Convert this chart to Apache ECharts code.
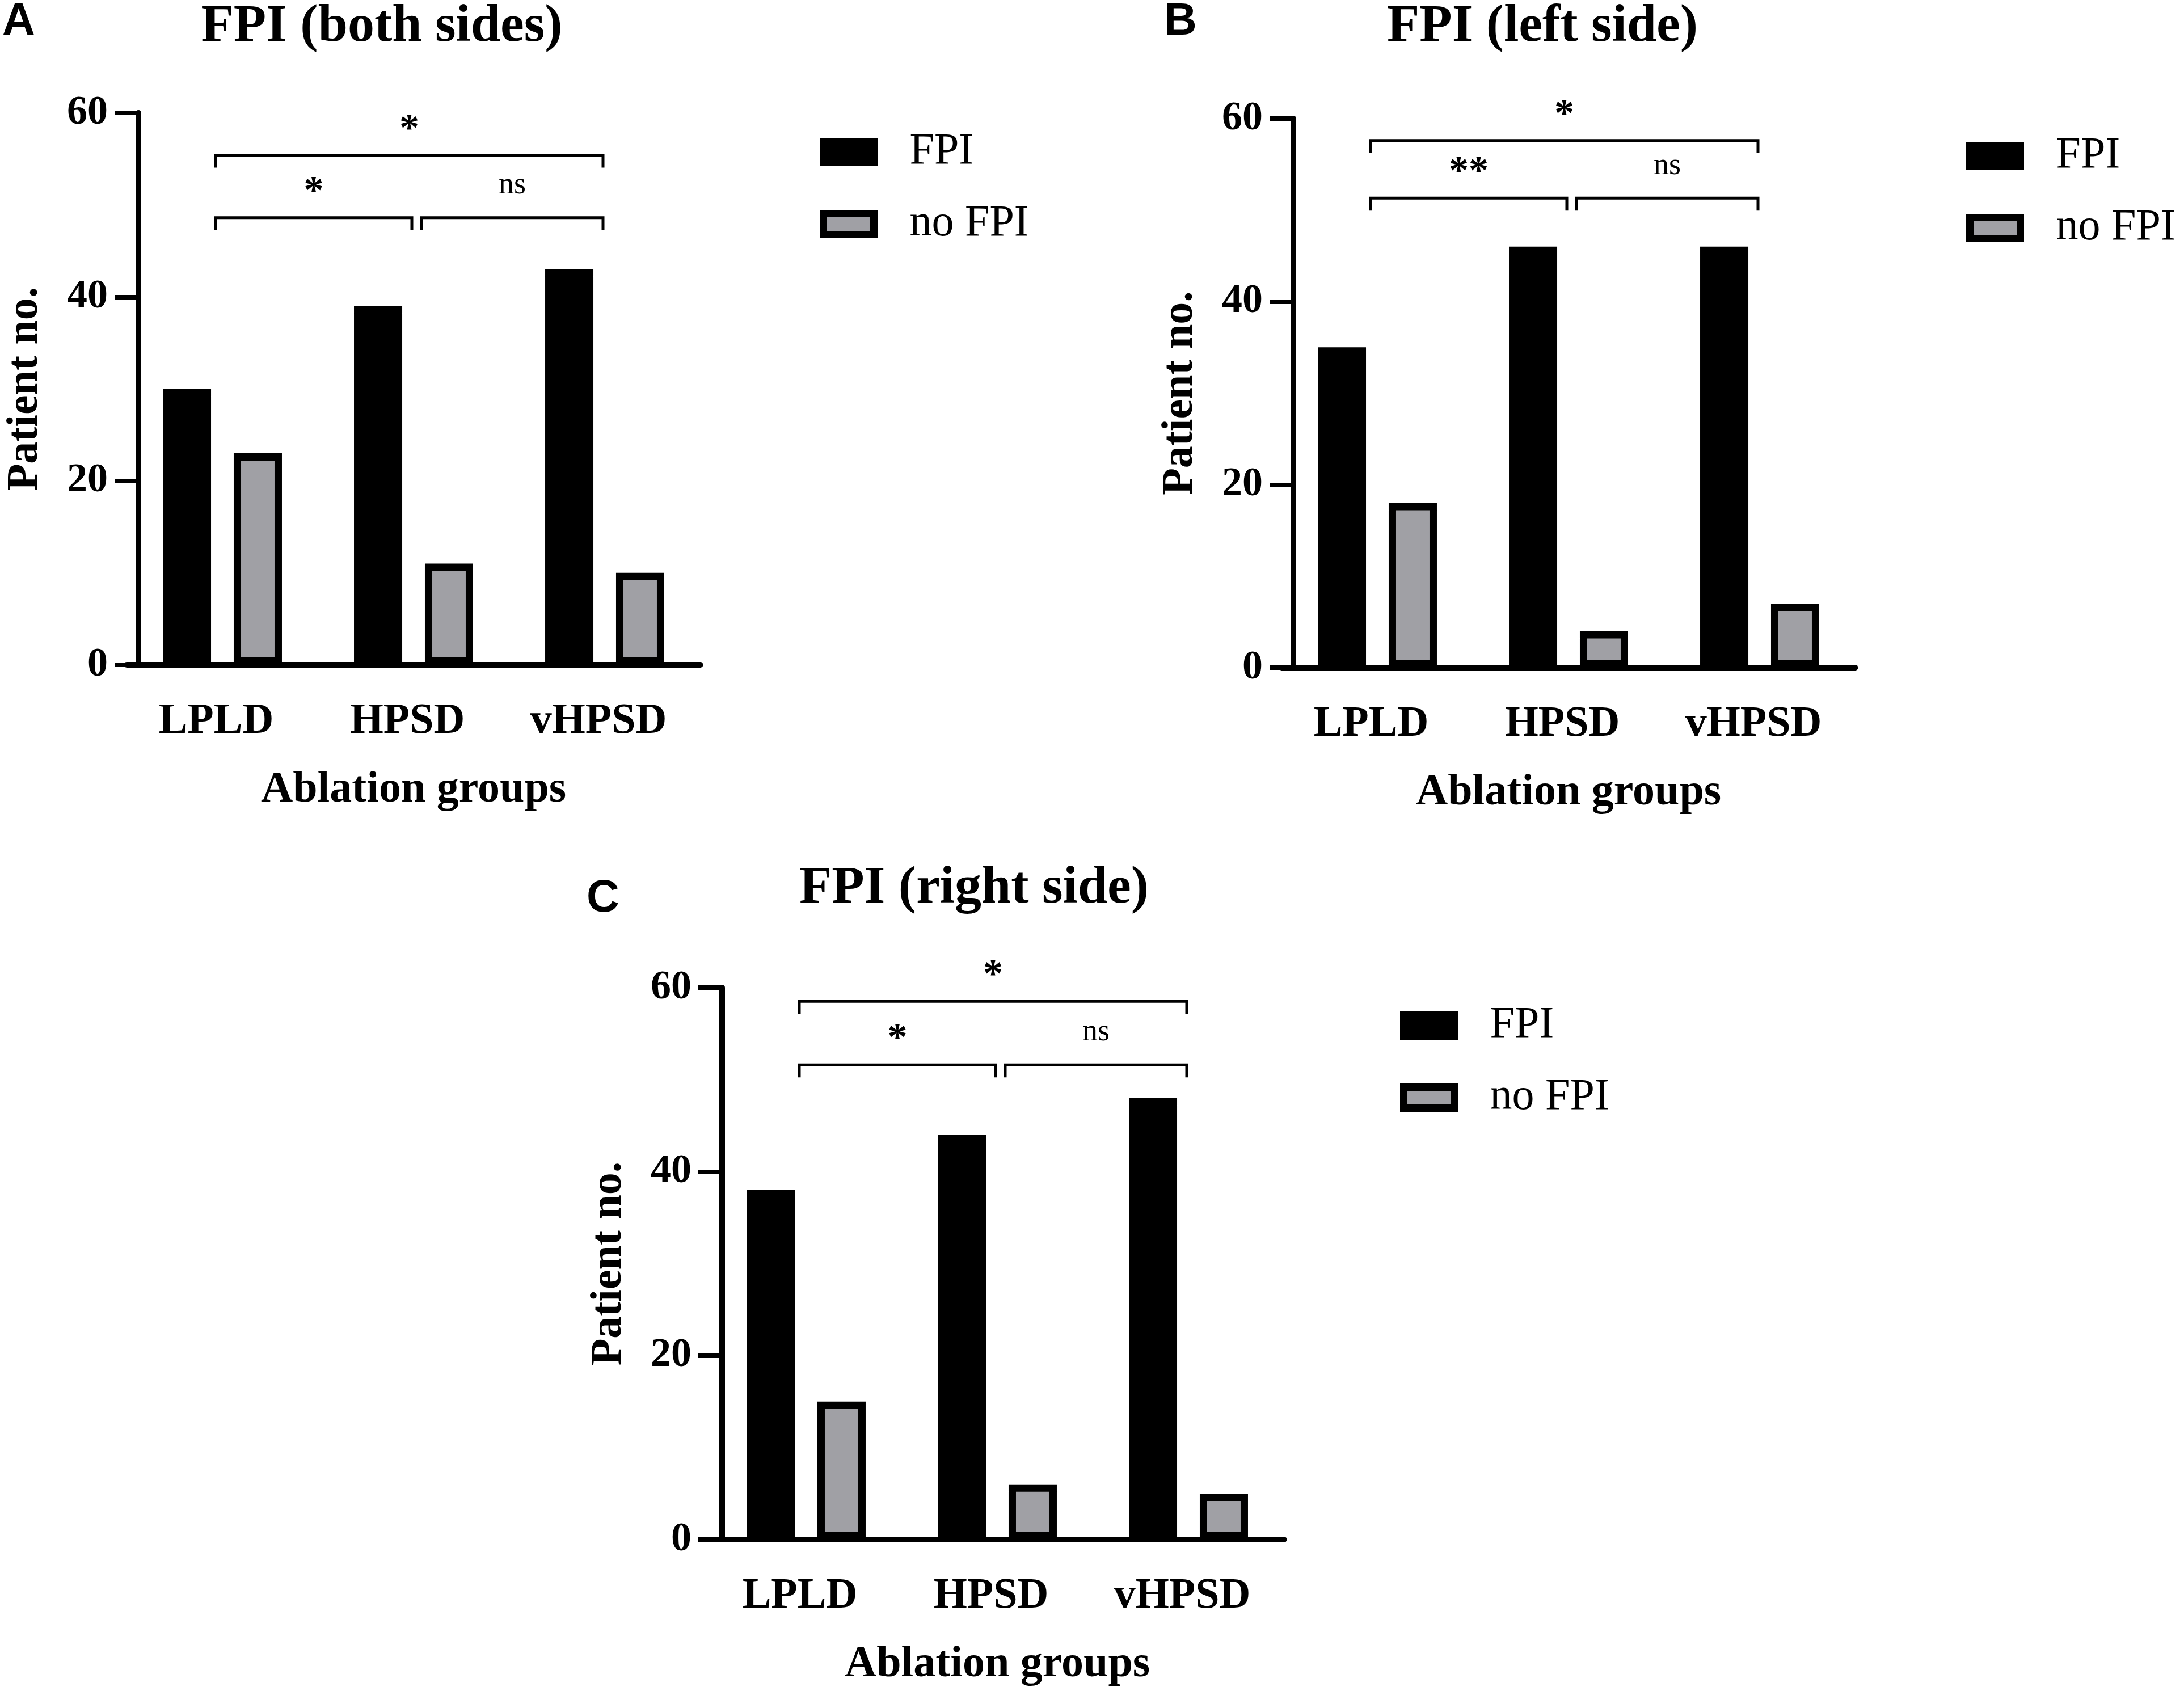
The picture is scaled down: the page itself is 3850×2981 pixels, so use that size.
<!DOCTYPE html>
<html>
<head>
<meta charset="utf-8">
<script src="https://cdn.jsdelivr.net/npm/echarts@6/dist/echarts.min.js"></script>
<style>
html, body { margin: 0; padding: 0; background: #fff; }
#chart { width: 3850px; height: 2981px; }
</style>
</head>
<body>
<div id="chart"></div>
<script>
var categories = ['LPLD', 'HPSD', 'vHPSD'];
var seriesNames = ['FPI', 'no FPI'];
var panelTitles = ['FPI (both sides)', 'FPI (left side)', 'FPI (right side)'];
var panelLetters = ['A', 'B', 'C'];

var fpiBoth = [30, 39, 43];
var noFpiBoth = [23, 11, 10];
var fpiLeft = [35, 46, 46];
var noFpiLeft = [18, 4, 7];
var fpiRight = [38, 44, 48];
var noFpiRight = [15, 6, 5];

// significance brackets: [from group, to group, height, label]
var bracketsBoth = [[0, 2, 55.4, '*'], [0, 1, 48.6, '*'], [1, 2, 48.6, 'ns']];
var bracketsLeft = [[0, 2, 57.6, '*'], [0, 1, 51.3, '**'], [1, 2, 51.3, 'ns']];
var bracketsRight = [[0, 2, 58.5, '*'], [0, 1, 51.6, '*'], [1, 2, 51.6, 'ns']];

var SERIF = 'Liberation Serif';
var SANS = 'Liberation Sans';

var panels = [
  { x0: 244, top: 199, bottom: 1172, titleX: 673, titleY: 48, letterX: 33, letterY: 39,
    legendX: 1445, legendY: 228, fpi: fpiBoth, nofpi: noFpiBoth, brackets: bracketsBoth },
  { x0: 2280, top: 209, bottom: 1177, titleX: 2719, titleY: 48, letterX: 2081, letterY: 39,
    legendX: 3466, legendY: 235, fpi: fpiLeft, nofpi: noFpiLeft, brackets: bracketsLeft },
  { x0: 1273, top: 1741, bottom: 2714, titleX: 1717, titleY: 1567, letterX: 1063, letterY: 1585,
    legendX: 2468, legendY: 1768, fpi: fpiRight, nofpi: noFpiRight, brackets: bracketsRight }
];

var chart = echarts.init(document.getElementById('chart'));

var grids = [], xAxes = [], yAxes = [], series = [], legends = [], graphics = [];

panels.forEach(function (p, i) {
  grids.push({ left: p.x0 - 20.5, top: p.top, width: 1011, height: p.bottom - p.top });

  xAxes.push({
    type: 'category', gridIndex: i, data: categories,
    axisLine: { lineStyle: { color: '#000', width: 10 } },
    axisTick: { alignWithLabel: true, length: 42, lineStyle: { color: '#000', width: 8 } },
    axisLabel: { color: '#000', fontFamily: SERIF, fontWeight: 'bold', fontSize: 76, margin: 62, padding: [0, 22, 0, 0] },
    name: 'Ablation groups', nameLocation: 'middle', nameGap: 182,
    nameTextStyle: { color: '#000', fontFamily: SERIF, fontWeight: 'bold', fontSize: 78 }
  });

  yAxes.push({
    type: 'value', gridIndex: i, min: 0, max: 60, interval: 20, offset: -20.5,
    axisLine: { show: true, lineStyle: { color: '#000', width: 10 } },
    axisTick: { show: true, length: 42, lineStyle: { color: '#000', width: 8 } },
    splitLine: { show: false },
    axisLabel: { color: '#000', fontFamily: SERIF, fontWeight: 'bold', fontSize: 72, margin: 54 },
    name: 'Patient no.', nameLocation: 'middle', nameGap: 160,
    nameTextStyle: { color: '#000', fontFamily: SERIF, fontWeight: 'bold', fontSize: 78 }
  });

  series.push({
    type: 'bar', name: 'FPI', xAxisIndex: i, yAxisIndex: i, data: p.fpi,
    barWidth: 85, barGap: '47%',
    itemStyle: { color: '#000', borderColor: '#000', borderWidth: 13 },
    emphasis: { disabled: true }
  });
  series.push({
    type: 'bar', name: 'no FPI', xAxisIndex: i, yAxisIndex: i, data: p.nofpi,
    barWidth: 85, barGap: '47%',
    itemStyle: { color: '#a0a0a5', borderColor: '#000', borderWidth: 13 },
    emphasis: { disabled: true }
  });

  var br = p.brackets;
  series.push({
    type: 'custom', xAxisIndex: i, yAxisIndex: i, z: 5,
    data: br.map(function (b) { return [b[0], b[1], b[2]]; }),
    encode: { x: 0, y: 2 },
    renderItem: function (params, api) {
      var from = api.value(0), to = api.value(1), lvl = api.value(2);
      var a = api.coord([from, lvl]);
      var b = api.coord([to, lvl]);
      var x1 = a[0] + (from === 0 ? -12 : 14);
      var x2 = b[0] - 3;
      var y = a[1];
      var label = br[params.dataIndex][3];
      var isNs = label === 'ns';
      return {
        type: 'group',
        children: [
          { type: 'polyline', shape: { points: [[x1, y + 22], [x1, y], [x2, y], [x2, y + 22]] },
            style: { stroke: '#000', lineWidth: 5, fill: null } },
          { type: 'text', style: {
              text: label, x: (x1 + x2) / 2, y: y - (isNs ? 57 : 44),
              align: 'center', verticalAlign: 'middle', fill: '#000',
              fontFamily: SERIF, fontWeight: isNs ? 'normal' : 'bold', fontSize: isNs ? 54 : 70 } }
        ]
      };
    }
  });

  legends.push({
    orient: 'vertical', left: p.legendX, top: p.legendY, padding: 0,
    data: seriesNames, icon: 'rect', itemWidth: 89, itemHeight: 37, itemGap: 47,
    selectedMode: false,
    itemStyle: { borderColor: '#000', borderWidth: 13 },
    textStyle: { color: '#000', fontFamily: SERIF, fontSize: 78, lineHeight: 80, padding: [0, 0, 0, 58] }
  });

  graphics.push({
    type: 'text', x: p.titleX, y: p.titleY,
    style: { text: panelTitles[i], align: 'center', verticalAlign: 'middle', fill: '#000',
             fontFamily: SERIF, fontWeight: 'bold', fontSize: 94 }
  });
  graphics.push({
    type: 'text', x: p.letterX, y: p.letterY,
    style: { text: panelLetters[i], align: 'center', verticalAlign: 'middle', fill: '#000',
             fontFamily: SANS, fontWeight: 'bold', fontSize: 80 }
  });
});

var option = {
  backgroundColor: '#fff',
  animation: false,
  grid: grids,
  xAxis: xAxes,
  yAxis: yAxes,
  legend: legends,
  series: series,
  graphic: graphics
};

chart.setOption(option);
</script>
</body>
</html>
